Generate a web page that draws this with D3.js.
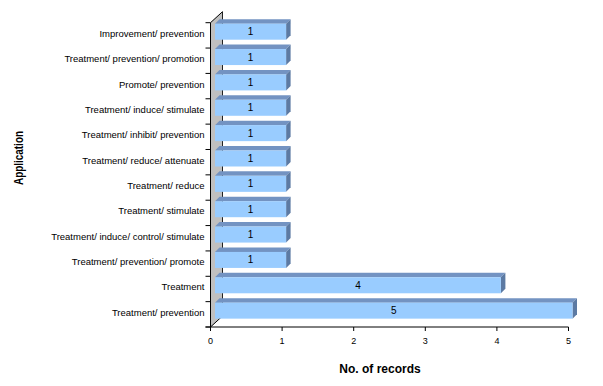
<!DOCTYPE html>
<html>
<head>
<meta charset="utf-8">
<script src="https://cdn.jsdelivr.net/npm/d3@7"></script>
<style>
  body { margin: 0; background: #fff; }
  text { font-family: Arial, "Liberation Sans", sans-serif; }
</style>
</head>
<body>
<div id="chart"></div>
<script>
// data, top to bottom as shown
var categories = [
  "Improvement/ prevention",
  "Treatment/ prevention/ promotion",
  "Promote/ prevention",
  "Treatment/ induce/ stimulate",
  "Treatment/ inhibit/ prevention",
  "Treatment/ reduce/ attenuate",
  "Treatment/ reduce",
  "Treatment/ stimulate",
  "Treatment/ induce/ control/ stimulate",
  "Treatment/ prevention/ promote",
  "Treatment",
  "Treatment/ prevention"
];
var records = [1, 1, 1, 1, 1, 1, 1, 1, 1, 1, 4, 5];
var xTicks = [0, 1, 2, 3, 4, 5];

var width = 603, height = 386;
var svg = d3.select("#chart").append("svg").attr("width", width).attr("height", height);

var x = d3.scaleLinear().domain([0, 5]).range([210.5, 568.5]);
var y = d3.scaleBand().domain(categories).range([22.7, 327]);

// depth of the 3d box (wall) and of the bars
var wallDx = 12, wallDy = 11;
var barDx = 4.5, barDy = 4.5;

var x0 = x(0), yBot = y.range()[1], yTop = y.range()[0];

// side wall
svg.append("polygon")
  .attr("points", [[x0, yBot], [x0 + wallDx, yBot - wallDy], [x0 + wallDx, yTop - wallDy], [x0, yTop]].join(" "))
  .attr("fill", "#c0c0c0");
svg.append("line")
  .attr("x1", x0 + wallDx).attr("x2", x0 + wallDx)
  .attr("y1", yTop - wallDy).attr("y2", yBot - wallDy)
  .attr("stroke", "#222").attr("stroke-width", 1);
svg.append("path")
  .attr("d", "M" + x0 + "," + yTop + "L" + (x0 + wallDx) + "," + (yTop - wallDy))
  .attr("stroke", "#000").attr("fill", "none");
svg.append("path")
  .attr("d", "M" + x0 + "," + yBot + "L" + (x0 + wallDx) + "," + (yBot - wallDy))
  .attr("stroke", "#000").attr("fill", "none");

// bars
var bars = svg.append("g").selectAll("g")
  .data(categories.map(function(c, i) { return {cat: c, v: records[i]}; }))
  .enter().append("g");

function bx0() { return x(0) + barDx; }
function bx1(d) { return x(d.v) + 4; }
function by0(d) { return y(d.cat) + 1; }
var bh = 16;

bars.append("polygon")
  .attr("points", function(d) {
    var a = bx0(), b = bx1(d), t = by0(d);
    return [[a, t], [b, t], [b + barDx, t - barDy], [a + barDx, t - barDy]].join(" ");
  })
  .attr("fill", "#7393c2");
bars.append("polygon")
  .attr("points", function(d) {
    var b = bx1(d), t = by0(d);
    return [[b, t], [b + barDx, t - barDy], [b + barDx, t + bh - barDy], [b, t + bh]].join(" ");
  })
  .attr("fill", "#5c7aa3");
bars.append("rect")
  .attr("x", bx0)
  .attr("y", by0)
  .attr("width", function(d) { return bx1(d) - bx0(); })
  .attr("height", bh)
  .attr("fill", "#99ccff");
bars.append("text")
  .attr("x", function(d) { return (bx0() + bx1(d)) / 2; })
  .attr("y", function(d) { return by0(d) + bh / 2 + 3.5; })
  .attr("text-anchor", "middle")
  .attr("font-size", 10)
  .attr("fill", "#000")
  .text(function(d) { return d.v; });

// category axis
var yAxis = svg.append("g").attr("transform", "translate(" + x0 + ",0)");
yAxis.append("line")
  .attr("x1", 0).attr("x2", 0).attr("y1", yTop).attr("y2", yBot)
  .attr("stroke", "#000");
var bounds = categories.map(function(c) { return y(c); }).concat([yBot]);
yAxis.selectAll("line.tk").data(bounds).enter().append("line")
  .attr("class", "tk")
  .attr("x1", -5).attr("x2", 0)
  .attr("y1", function(d) { return d; }).attr("y2", function(d) { return d; })
  .attr("stroke", "#000");
yAxis.selectAll("text").data(categories).enter().append("text")
  .attr("x", -6)
  .attr("y", function(d) { return y(d) + y.bandwidth() / 2 + 1.5; })
  .attr("text-anchor", "end")
  .attr("font-size", 9.5)
  .text(function(d) { return d; });

// value axis
var xAxis = svg.append("g").attr("transform", "translate(0," + yBot + ")");
xAxis.append("line")
  .attr("x1", x0 - 5).attr("x2", x(5)).attr("y1", 0).attr("y2", 0)
  .attr("stroke", "#000");
xAxis.selectAll("line.tk").data(xTicks).enter().append("line")
  .attr("class", "tk")
  .attr("x1", function(d) { return x(d); }).attr("x2", function(d) { return x(d); })
  .attr("y1", 0).attr("y2", 4)
  .attr("stroke", "#000");
xAxis.selectAll("text").data(xTicks).enter().append("text")
  .attr("x", function(d) { return x(d); })
  .attr("y", 17)
  .attr("text-anchor", "middle")
  .attr("font-size", 9)
  .text(function(d) { return d; });

// titles
svg.append("text")
  .attr("x", 380).attr("y", 373)
  .attr("text-anchor", "middle")
  .attr("font-size", 12).attr("font-weight", "bold")
  .text("No. of records");
svg.append("text")
  .attr("transform", "translate(23,158) rotate(-90)")
  .attr("text-anchor", "middle")
  .attr("font-size", 12).attr("font-weight", "bold")
  .attr("textLength", 54).attr("lengthAdjust", "spacingAndGlyphs")
  .text("Application");
</script>
</body>
</html>
